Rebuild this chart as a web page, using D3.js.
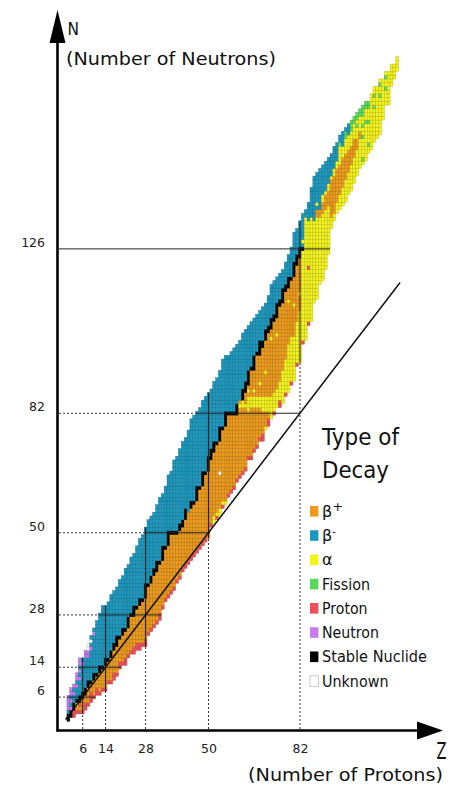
<!DOCTYPE html>
<html><head><meta charset="utf-8">
<script src="https://cdn.jsdelivr.net/npm/d3@7"></script>
<style>html,body{margin:0;padding:0;background:#fff;} svg{display:block;font-family:"DejaVu Sans",sans-serif;}</style>
</head><body>
<svg id="c" width="458" height="787"></svg>
<script>
// Lowest neutron number shown for each proton number Z = 1..116
const firstNeutron = [0,1,1,2,2,2,3,4,5,6, 7,7,8,8,10,10,11,12,14,15, 15,17,18,18,19,19,20,20,23,24,
  25,26,27,30,32,33,34,35,37,38, 40,41,42,43,44,45,46,47,48,49, 52,53,54,55,57,58,60,61,62,64,
  65,66,67,70,70,72,73,75,75,78, 79,81,82,84,84,85,87,88,90,91, 95,96,101,102,106,107,112,113,117,118,
  121,125,132,134,136,137,138,139,141,142, 144,146,148,149,150,152,153,155,156,157, 161,165,165,170,172,174];
// Decay mode runs along N for each Z (code + count); o=β+, b=β-, a=α, f=fission, p=proton, n=neutron, s=stable, u=unknown
const decayRuns = [
 "s2 b1 n4","s2 n1 b1 n1 b1 n2","p2 s2 b2 n1 b1 n1","p1 o1 a1 s1 b3 n1 b1 n2","p1 o1 p1 s2 b4 n1 b1 n1 b1 n2",
 "p1 o3 s2 b7 n1 b1","p2 o2 s2 b8 n2","p1 o4 s2 b6 n2 u2","p3 o2 s1 b8 n1 b1 u1 b1","p1 o4 s2 b10 n1 b1",
 "p2 o3 s1 b14","p1 o5 s2 b14","p1 o5 s1 b16","p1 o6 s2 b14","p1 o5 s1 b15",
 "p1 o6 s2 b15","p2 o6 s2 b14","p1 o7 s3 b13","p2 o6 s1 b15","p1 o7 s2 b14",
 "p2 o7 s1 b16","p1 o7 s3 b14","p1 o9 s1 b15","p2 o8 s3 b14","p2 o9 s1 b16",
 "p2 o10 s2 b16","p1 o11 s1 b17","p2 o11 s4 b15","p1 o12 s1 b17","p1 o12 s2 b16",
 "p1 o13 s2 b15","p1 o13 s3 b15","p2 o13 s1 b17","p1 o12 s4 b14","p1 o13 s1 b16",
 "p1 o13 s4 b15","p1 o15 s1 b16","p1 o14 s1 b19","p1 o12 s1 b20","p1 o12 s2 b20",
 "p1 o11 s2 b21","p1 o12 s3 b19","p1 o13 b22","p1 o13 s2 b22","p1 o13 s1 b23",
 "p1 o13 s4 b20","p1 o15 s1 b21","p1 o15 s4 b19","p1 o17 s1 b20","o18 s4 b17",
 "p1 o17 s3 b16","a2 o17 s3 b16","p1 a1 o18 s1 b17","a2 o9 u1 o8 s4 b15","p1 a1 o19 s1 b18",
 "a1 o20 s4 b15","p1 o21 s1 b15","p1 o20 s1 b16","p1 o19 s1 b17","p1 o17 s3 b16",
 "p1 o18 a1 o1 b16","p1 o17 a2 s3 b15","p1 o16 a1 o3 s3 b14","p1 o12 a4 o1 a1 o1 s4 b12","p1 o13 a3 o7 s1 b12",
 "p1 o11 a3 o1 a1 o5 s4 b10","p1 o10 a3 o11 s1 b10","p1 o8 a3 o3 a1 o7 s4 b8","p2 o6 a4 o13 s2 b9","a1 o4 a4 o6 a1 o8 s3 b7",
 "p2 o2 a4 o17 s2 b8","a6 o15 a1 o2 s3 b9","p1 a5 o19 s2 b9","a5 o14 a1 o4 s4 b7","p2 a5 o20 s2 b7",
 "a9 o18 s4 b5","p1 a9 o18 s2 b6","a13 o11 a1 o3 s3 b6","p1 a12 o15 s1 b8","a12 o8 a1 o7 s4 b8",
 "p1 a11 o15 s3 b7","a14 o4 a1 o9 s3 b7","p1 a24 s1 b1 a1 b7","a33 b2","p1 a14 p1 a12 b5",
 "a28 b8","a22 b12","a22 o2 b1 a1 b8","a18 o2 b11","a18 o3 a2 b8",
 "a16 o4 a1 b8","a13 o4 a2 b7","a3 o10 a1 b6","a2 o10 a2 b6","a3 o9 a2 b5",
 "a4 o8 a5 f1 b2","a5 o8 a3 b4","a6 o7 a4 f2 b1","a6 o6 a4 b3","a7 o5 a4 f3",
 "a7 o5 a4 f2","a7 o3 a3 f1 a1 f2","a8 o2 a4 f2","a1 f1 a5 f1 a2 f1 a2 f3","a10 f1 a3 f2",
 "a2 f1 a5 f1 a3 f2","a15","a9 f1 a2 f1 a2","a14","a10 f1 a2 f1 a1",
 "a11","a4 f1 a2 f1 a1","a9","a6","a4","a4"];
const nTicks = [6, 14, 28, 50, 82, 126];
const zTicks = [6, 14, 28, 50, 82];
const decayCodes = ["o","b","a","f","p","n","s","u"];
const decayLabels = ["β+","β-","α","Fission","Proton","Neutron","Stable Nuclide","Unknown"];
const decayColors = ["#ee9a1a","#1b98be","#f4f41c","#5ad85a","#ee4d5a","#c57cee","#000000","#ffffff"];

const svg = d3.select("#c");
const x = d3.scaleLinear().domain([0, 82]).range([65.5, 300]);
const y = d3.scaleLinear().domain([0, 126]).range([719.5, 248.9]);
const color = d3.scaleOrdinal().domain(decayCodes).range(decayColors);

const cells = [];
decayRuns.forEach((runs, i) => {
  const z = i + 1; let n = firstNeutron[i];
  runs.split(" ").forEach(r => {
    const code = r[0], count = +r.slice(1);
    for (let k = 0; k < count; k++) cells.push({z, n: n++, code});
  });
});

// dashed guide lines from axes
const rowExt = N => d3.extent(cells.filter(c => c.n === N), c => c.z);
const colExt = Z => d3.extent(cells.filter(c => c.z === Z), c => c.n);
const guides = svg.append("g").attr("fill","none");
nTicks.forEach(N => {
  const [z0] = rowExt(N);
  guides.append("line").attr("x1", 59).attr("x2", x(z0 - 0.5)).attr("y1", y(N)).attr("y2", y(N))
    .attr("stroke", N === 126 ? "#222" : "#333").attr("stroke-width", 1)
    .attr("stroke-dasharray", N === 126 ? null : "2,2");
});
zTicks.forEach(Z => {
  const [n0] = colExt(Z);
  guides.append("line").attr("x1", x(Z)).attr("x2", x(Z)).attr("y1", 729).attr("y2", y(n0 - 0.5))
    .attr("stroke", "#333").attr("stroke-width", 1).attr("stroke-dasharray", "2,2");
});

// cells
svg.append("g").selectAll("rect").data(cells).join("rect")
  .attr("x", d => x(d.z - 0.5)).attr("y", d => y(d.n + 0.5))
  .attr("width", d => x(d.z + 0.5) - x(d.z - 0.5)).attr("height", d => y(d.n - 0.5) - y(d.n + 0.5))
  .attr("fill", d => color(d.code))
  .attr("stroke", d => d.code === "u" ? "#aaa" : d3.color(color(d.code)).darker(0.9))
  .attr("stroke-width", 0.4);

// magic number lines through the chart
const magic = svg.append("g").attr("stroke", "#222").attr("stroke-width", 1);
nTicks.forEach(N => {
  const [z0, z1] = rowExt(N);
  const zEnd = N <= 117 ? Math.max(z1 + 0.5, N) : z1 + 0.5;
  magic.append("line").attr("x1", x(z0 - 0.5)).attr("x2", x(zEnd)).attr("y1", y(N)).attr("y2", y(N));
});
zTicks.forEach(Z => {
  const [n0, n1] = colExt(Z);
  magic.append("line").attr("x1", x(Z)).attr("x2", x(Z)).attr("y1", y(n0 - 0.5)).attr("y2", y(n1 + 0.5));
});
// N = Z diagonal
svg.append("line").attr("x1", x(0)).attr("y1", y(0)).attr("x2", x(117)).attr("y2", y(117))
  .attr("stroke", "#111").attr("stroke-width", 1.5);

// axes
const ax = svg.append("g").attr("stroke", "#000").attr("stroke-width", 2.6);
ax.append("line").attr("x1", 57.5).attr("x2", 57.5).attr("y1", 731.5).attr("y2", 38);
ax.append("line").attr("x1", 56.5).attr("x2", 420).attr("y1", 730.5).attr("y2", 730.5);
svg.append("path").attr("d", "M57.5,10 L49.5,43 L65.5,43 Z").attr("fill", "#000");
svg.append("path").attr("d", "M443,730.5 L417,721.5 L417,739.5 Z").attr("fill", "#000");

const yAxis = svg.append("g").attr("transform", "translate(45,0)")
  .call(d3.axisLeft(y).tickValues(nTicks).tickSize(0).tickPadding(0));
yAxis.select(".domain").remove();
yAxis.selectAll("text").attr("dy", -2.5).attr("font-size", 12.5).attr("fill", "#222")
  .attr("font-family", "DejaVu Sans");
const xAxis = svg.append("g").attr("transform", "translate(0,753)")
  .call(d3.axisBottom(x).tickValues(zTicks).tickSize(0).tickPadding(0));
xAxis.select(".domain").remove();
xAxis.selectAll("text").attr("y", 0).attr("dy", 0).attr("font-size", 12.5).attr("fill", "#222")
  .attr("font-family", "DejaVu Sans");

// titles
const txt = (t, px, py, fs, len) => {
  const e = svg.append("text").attr("x", px).attr("y", py).attr("font-size", fs).attr("fill", "#111").text(t);
  if (len) e.attr("textLength", len).attr("lengthAdjust", "spacingAndGlyphs");
  return e;
};
txt("N", 67.5, 35, 17.5, 11.5);
txt("(Number of Neutrons)", 66, 65, 17.5, 210);
txt("Z", 436.5, 758.5, 22.5, 10);
txt("(Number of Protons)", 248, 781, 17.5, 195);

// legend
txt("Type of", 322, 445, 23.5, 77);
txt("Decay", 322, 477.5, 23.5, 67);
const legendW = [0, 0, 0, 48, 45.5, 57, 105, 66.5];
const leg = svg.append("g").selectAll("g").data(decayCodes).join("g")
  .attr("transform", (d, i) => `translate(0,${511.3 + i * 24.25})`);
leg.append("rect").attr("x", 310).attr("y", -5.3).attr("width", 8.4).attr("height", 10.6)
  .attr("fill", d => color(d)).attr("stroke", d => d === "u" ? "#bbb" : "none").attr("stroke-width", 0.8);
leg.each(function(d, i) {
  const g = d3.select(this);
  const lab = decayLabels[i];
  const t = g.append("text").attr("x", 322).attr("y", 5.6).attr("font-size", 16).attr("fill", "#111");
  if (lab.startsWith("β")) {
    t.append("tspan").text("β");
    t.append("tspan").attr("dy", -6).attr("font-size", lab[1] === "+" ? 13 : 10).text(lab[1] === "+" ? "+" : "-");
  } else {
    t.text(lab);
    if (legendW[i]) t.attr("textLength", legendW[i]).attr("lengthAdjust", "spacingAndGlyphs");
  }
});
</script>
</body></html>
